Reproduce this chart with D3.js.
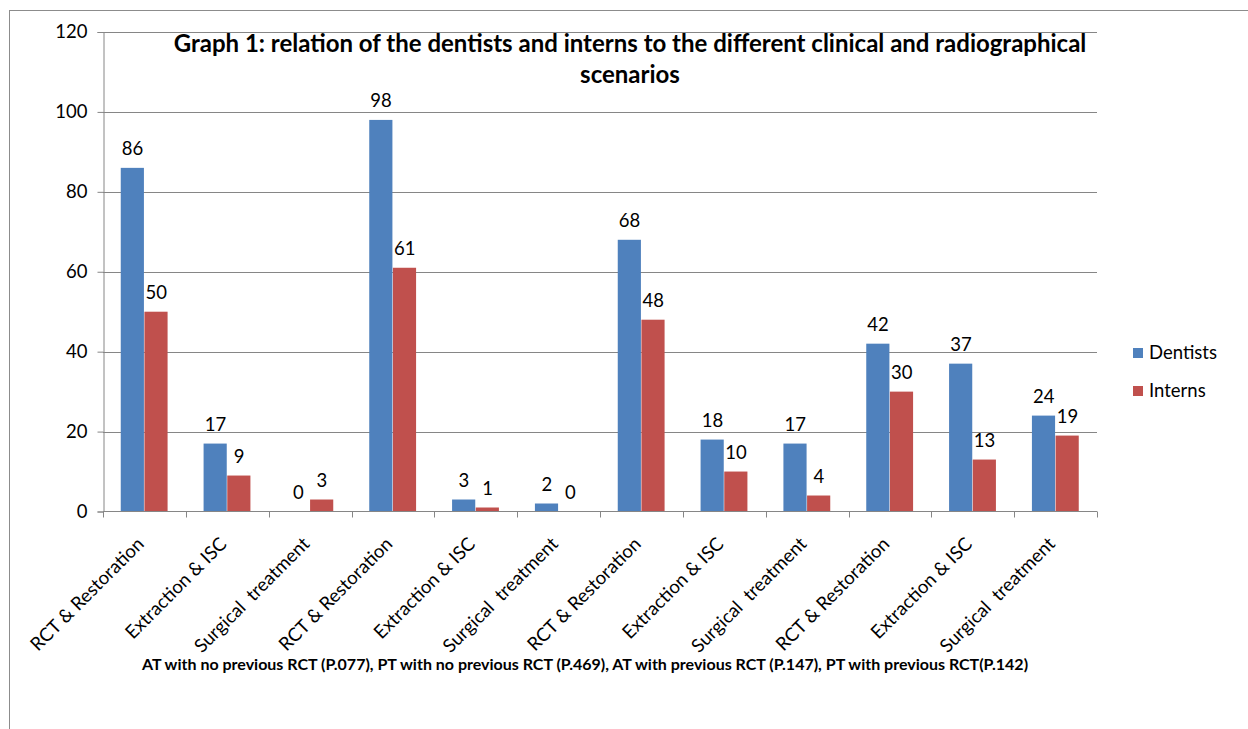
<!DOCTYPE html>
<html><head><meta charset="utf-8">
<script src="https://cdn.jsdelivr.net/npm/d3@7/dist/d3.min.js"></script>
<style>body{margin:0;background:#fff;} svg{display:block;} text{font-family:Lato,"Open Sans",sans-serif;}</style>
</head><body>
<svg id="c" width="1248" height="729"></svg>
<script>
const categories = ["RCT & Restoration","Extraction & ISC","Surgical  treatment","RCT & Restoration","Extraction & ISC","Surgical  treatment","RCT & Restoration","Extraction & ISC","Surgical  treatment","RCT & Restoration","Extraction & ISC","Surgical  treatment"];
const dentists = [86,17,0,98,3,2,68,18,17,42,37,24];
const interns = [50,9,3,61,1,0,48,10,4,30,13,19];
const seriesNames = ["Dentists","Interns"];
const colors = ["#4F81BD","#C0504D"];
const yTicks = [0,20,40,60,80,100,120];
const titleLines = ["Graph 1: relation of the dentists and interns to the different clinical and radiographical","scenarios"];
const footer = "AT with no previous RCT (P.077), PT with no previous RCT (P.469), AT with previous RCT (P.147), PT with previous RCT(P.142)";

const svg = d3.select("#c");
const FS = 18.5;
// outer frame
svg.append("rect").attr("x",9.5).attr("y",10.5).attr("width",1300).attr("height",800)
  .attr("fill","none").attr("stroke","#8c8c8c").attr("stroke-width",1);

const L=103, R=1097, T=32, B=511.5;
const x = d3.scaleBand().domain(d3.range(categories.length)).range([L,R]).paddingInner(0).paddingOuter(0);
const y = d3.scaleLinear().domain([0,120]).range([B,T]);
const bw = x.bandwidth()/3.5;

// gridlines
svg.append("g").selectAll("line").data(yTicks.filter(d=>d>0)).join("line")
  .attr("x1",L).attr("x2",R).attr("y1",d=>Math.round(y(d))+0.5).attr("y2",d=>Math.round(y(d))+0.5)
  .attr("stroke","#868686").attr("stroke-width",1);

// y axis
const ya = svg.append("g").attr("transform",`translate(${L+0.5},0)`)
  .call(d3.axisLeft(y).tickValues(yTicks).tickSize(6).tickPadding(10));
ya.select(".domain").attr("stroke","#868686");
ya.selectAll(".tick line").attr("stroke","#868686");
ya.selectAll(".tick text").attr("font-size",FS).attr("fill","#000").attr("font-family","Lato");

// bars
const series = [dentists, interns];
series.forEach((vals,si)=>{
  const g = svg.append("g");
  g.selectAll("rect").data(vals).join("rect")
    .attr("x",(d,i)=>x(i)+bw*0.75+si*bw)
    .attr("y",d=>y(d)).attr("width",bw-0.5).attr("height",d=>B-y(d))
    .attr("fill",colors[si]);
  g.selectAll("text").data(vals).join("text")
    .attr("x",(d,i)=>x(i)+bw*0.75+si*bw+bw/2)
    .attr("y",d=>y(d)-13)
    .attr("text-anchor","middle").attr("font-size",FS).attr("fill","#000")
    .text(d=>d);
});

// x axis
svg.append("line").attr("x1",L).attr("x2",R).attr("y1",B).attr("y2",B).attr("stroke","#868686");
svg.append("g").selectAll("line").data(d3.range(categories.length+1)).join("line")
  .attr("x1",i=>Math.round(L+i*x.bandwidth())+0.5).attr("x2",i=>Math.round(L+i*x.bandwidth())+0.5)
  .attr("y1",B).attr("y2",B+6).attr("stroke","#868686");
svg.append("g").selectAll("text").data(categories).join("text")
  .attr("transform",(d,i)=>`translate(${x(i)+x.bandwidth()/2-4},${B+29}) rotate(-45)`)
  .attr("text-anchor","end").attr("dy","0.35em").attr("font-size",18.6).attr("fill","#000")
  .attr("xml:space","preserve").style("white-space","pre")
  .text(d=>d);

// title
svg.append("g").selectAll("text").data(titleLines).join("text")
  .attr("x",630).attr("y",(d,i)=>52+i*31).attr("text-anchor","middle")
  .attr("font-size",24).attr("font-weight","bold").attr("fill","#000").text(d=>d);

// footer
svg.append("text").attr("x",585).attr("y",670).attr("text-anchor","middle")
  .attr("font-size",16).attr("font-weight","bold").attr("fill","#000").text(footer);

// legend
const lg = svg.append("g");
seriesNames.forEach((n,i)=>{
  lg.append("rect").attr("x",1133).attr("y",348+i*38).attr("width",10).attr("height",10).attr("fill",colors[i]);
  lg.append("text").attr("x",1149).attr("y",353+i*38).attr("dy","0.35em").attr("font-size",FS).attr("fill","#000").text(n);
});
</script>
</body></html>
